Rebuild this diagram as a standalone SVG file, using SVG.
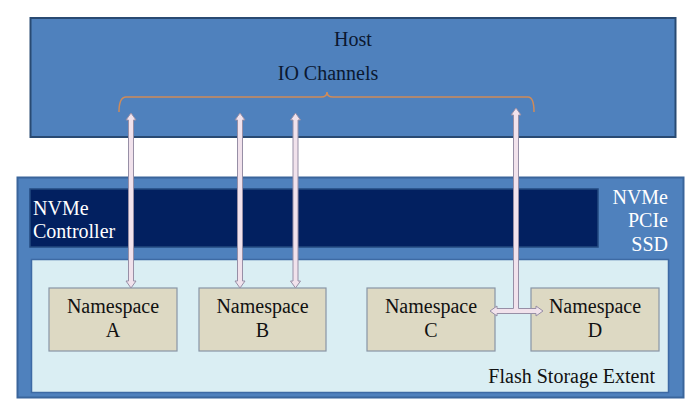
<svg xmlns="http://www.w3.org/2000/svg" width="700" height="415" viewBox="0 0 700 415">
<style>
.t{font-family:"Liberation Serif","Times New Roman",serif;font-size:20px}
.dk{fill:#0b1830}
.wh{fill:#ffffff}
.bk{fill:#111111}
.ns{fill:#ddd9c3;stroke:#8995a6;stroke-width:1.2}
.arr{fill:#f1e2ec;stroke:#978fa6;stroke-width:1}
</style>
<rect width="700" height="415" fill="#ffffff"/>
<g id="host">
<rect x="30.5" y="18" width="645" height="119" fill="#4f81bd" stroke="#294a72" stroke-width="2"/>
<text class="t dk" x="353" y="46" text-anchor="middle">Host</text>
<text class="t dk" x="328" y="80" text-anchor="middle">IO Channels</text>
<path d="M119,112 Q119,97 126,97 L321,97 Q327,97 327,92 Q327,97 333,97 L528,97 Q534,97 534,112" fill="none" stroke="#d08b58" stroke-width="1.5"/>
</g>
<g id="ssd">
<rect x="17.5" y="177.5" width="666" height="220" fill="#4f81bd" stroke="#3a659b" stroke-width="2"/>
<text class="t wh" x="668" y="204" text-anchor="end">NVMe</text>
<text class="t wh" x="668" y="227" text-anchor="end">PCIe</text>
<text class="t wh" x="668" y="251" text-anchor="end">SSD</text>
</g>
<g id="controller">
<rect x="30" y="189" width="568" height="58" fill="#022060" stroke="#234a80" stroke-width="1.5"/>
<text class="t wh" x="33" y="215">NVMe</text>
<text class="t wh" x="33" y="238">Controller</text>
</g>
<g id="flash">
<rect x="31.5" y="259.5" width="637" height="133" fill="#daeef3" stroke="#3d6aa4" stroke-width="1.5"/>
<text class="t bk" x="655" y="383" text-anchor="end">Flash Storage Extent</text>
</g>
<g id="nsA">
<rect class="ns" x="49" y="288" width="128" height="63"/>
<text class="t bk" x="113" y="313" text-anchor="middle">Namespace</text>
<text class="t bk" x="113" y="337" text-anchor="middle">A</text>
</g>
<g id="nsB">
<rect class="ns" x="199" y="288" width="127" height="63"/>
<text class="t bk" x="262.5" y="313" text-anchor="middle">Namespace</text>
<text class="t bk" x="262.5" y="337" text-anchor="middle">B</text>
</g>
<g id="nsC">
<rect class="ns" x="367" y="288" width="128" height="63"/>
<text class="t bk" x="431" y="313" text-anchor="middle">Namespace</text>
<text class="t bk" x="431" y="337" text-anchor="middle">C</text>
</g>
<g id="nsD">
<rect class="ns" x="531" y="288" width="128" height="63"/>
<text class="t bk" x="595" y="313" text-anchor="middle">Namespace</text>
<text class="t bk" x="595" y="337" text-anchor="middle">D</text>
</g>
<g id="connectors">
<path class="arr" d="M131,113 L136,120 L133.5,120 L133.5,281 L136,281 L131,288 L126,281 L128.5,281 L128.5,120 L126,120 Z"/>
<path class="arr" d="M240,113 L245,120 L242.5,120 L242.5,281 L245,281 L240,288 L235,281 L237.5,281 L237.5,120 L235,120 Z"/>
<path class="arr" d="M295.5,113 L300.5,120 L298,120 L298,281 L300.5,281 L295.5,288 L290.5,281 L293,281 L293,120 L290.5,120 Z"/>
<path class="arr" d="M516,108 L521,115 L518.5,115 L518.5,308.5 L536,308.5 L536,306 L543,311 L536,316 L536,313.5 L497,313.5 L497,316 L490,311 L497,306 L497,308.5 L513.5,308.5 L513.5,115 L511,115 Z"/>
</g>
</svg>
